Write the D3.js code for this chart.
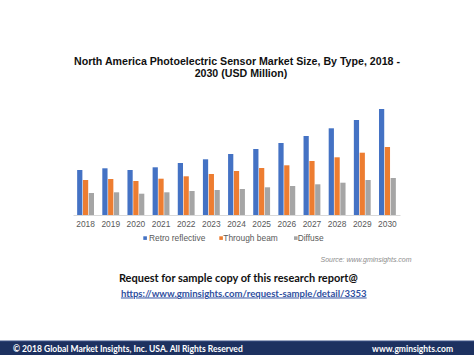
<!DOCTYPE html>
<html>
<head>
<meta charset="utf-8">
<script src="https://cdn.jsdelivr.net/npm/d3@7/dist/d3.min.js"></script>
<style>
html,body{margin:0;padding:0;background:#fff;}
svg{display:block;}
</style>
</head>
<body>
<script>
const years = ["2018","2019","2020","2021","2022","2023","2024","2025","2026","2027","2028","2029","2030"];
const seriesNames = ["Retro reflective","Through beam","Diffuse"];
const retroReflective = [450,467,450,477,520,557,610,660,720,790,867,950,1060];
const throughBeam = [350,360,340,363,387,410,440,470,497,540,577,623,680];
const diffuse = [220,227,213,227,240,250,260,277,290,307,323,350,370];
const colors = ["#4472C4","#ED7D31","#A5A5A5"];

const W = 474, H = 355;
const svg = d3.select("body").append("svg").attr("width", W).attr("height", H);
svg.append("rect").attr("width", W).attr("height", H).attr("fill", "#fff");

function fit(sel, target) {
  const node = sel.node();
  const fs = parseFloat(sel.attr("font-size"));
  const w = node.getComputedTextLength();
  if (w > 0) sel.attr("font-size", (fs * target / w).toFixed(2));
  return sel;
}

// Title
const tf = "'Liberation Sans', Arial, sans-serif";
const t1 = fit(svg.append("text").attr("x", 237).attr("y", 64.5).attr("text-anchor","middle")
  .attr("font-family", tf).attr("font-weight","bold").attr("font-size", 10.5).attr("fill","#111")
  .text("North America Photoelectric Sensor Market Size, By Type, 2018 -"), 326);
svg.append("text").attr("x", 241).attr("y", 76.6).attr("text-anchor","middle")
  .attr("font-family", tf).attr("font-weight","bold").attr("font-size", t1.attr("font-size")).attr("fill","#111")
  .text("2030 (USD Million)");

// Scales
const data = years.map((y, i) => ({year: y, values: [retroReflective[i], throughBeam[i], diffuse[i]]}));
const x0 = d3.scaleBand().domain(years).range([73, 400]).paddingInner(0.33).paddingOuter(0.165);
const x1 = d3.scaleBand().domain(seriesNames).range([0, x0.bandwidth()]).paddingInner(0.1);
const y = d3.scaleLinear().domain([0, 1200]).range([215, 95]);

const g = svg.append("g");
g.selectAll("g.grp").data(data).join("g").attr("class","grp")
  .attr("transform", d => `translate(${x0(d.year)},0)`)
  .selectAll("rect").data(d => d.values.map((v, k) => ({name: seriesNames[k], v, k})))
  .join("rect")
  .attr("x", d => x1(d.name))
  .attr("width", x1.bandwidth())
  .attr("y", d => y(d.v))
  .attr("height", d => y(0) - y(d.v))
  .attr("fill", d => colors[d.k]);

// X axis
const xAxis = svg.append("g").attr("transform", "translate(0,215)")
  .call(d3.axisBottom(x0).tickSize(0).tickPadding(6).tickSizeOuter(0));
xAxis.select(".domain").attr("stroke", "#d9d9d9").attr("stroke-width", 1);
xAxis.selectAll("text").attr("font-family", tf).attr("font-size", 8.4).attr("fill", "#595959");

// Legend
const legendPos = [{sx:143.3, tx:149}, {sx:219.3, tx:223.3}, {sx:294, tx:297.7}];
const lg = svg.append("g");
seriesNames.forEach((n, k) => {
  lg.append("rect").attr("x", legendPos[k].sx).attr("y", 236.3).attr("width", 3.6).attr("height", 3.6).attr("fill", colors[k]);
  lg.append("text").attr("x", legendPos[k].tx).attr("y", 241.2).attr("font-family", tf)
    .attr("font-size", 8.4).attr("fill", "#595959").text(n);
});

// Source
fit(svg.append("text").attr("x", 411.5).attr("y", 261.5).attr("text-anchor","end")
  .attr("font-family", tf).attr("font-style","italic").attr("font-size", 7).attr("fill","#8c8c8c")
  .text("Source: www.gminsights.com"), 91);

// Request text
const cf = "Lato, 'Open Sans', sans-serif";
fit(svg.append("text").attr("x", 238.3).attr("y", 281.5).attr("text-anchor","middle")
  .attr("font-family", cf).attr("font-weight","bold").attr("font-size", 11.5).attr("fill","#111")
  .text("Request for sample copy of this research report@"), 239);
fit(svg.append("text").attr("x", 243.8).attr("y", 296.5).attr("text-anchor","middle")
  .attr("font-family", cf).attr("font-weight","bold").attr("font-size", 11.5).attr("fill","#2f4f9f")
  .attr("text-decoration","underline")
  .text("https://www.gminsights.com/request-sample/detail/3353"), 246);

// Footer
svg.append("rect").attr("x", 0).attr("y", 341).attr("width", W).attr("height", 14).attr("fill", "#1d3160");
svg.append("line").attr("x1",0).attr("x2",W).attr("y1",341).attr("y2",341).attr("stroke","#3d5286").attr("stroke-width",1);
fit(svg.append("text").attr("x", 13).attr("y", 352.3)
  .attr("font-family", cf).attr("font-weight","bold").attr("font-size", 8.5).attr("fill","#fff")
  .text("© 2018 Global Market Insights, Inc. USA. All Rights Reserved"), 230);
fit(svg.append("text").attr("x", 453).attr("y", 352.3).attr("text-anchor","end")
  .attr("font-family", cf).attr("font-weight","bold").attr("font-size", 8.5).attr("fill","#fff")
  .text("www.gminsights.com"), 81);
</script>
</body>
</html>
